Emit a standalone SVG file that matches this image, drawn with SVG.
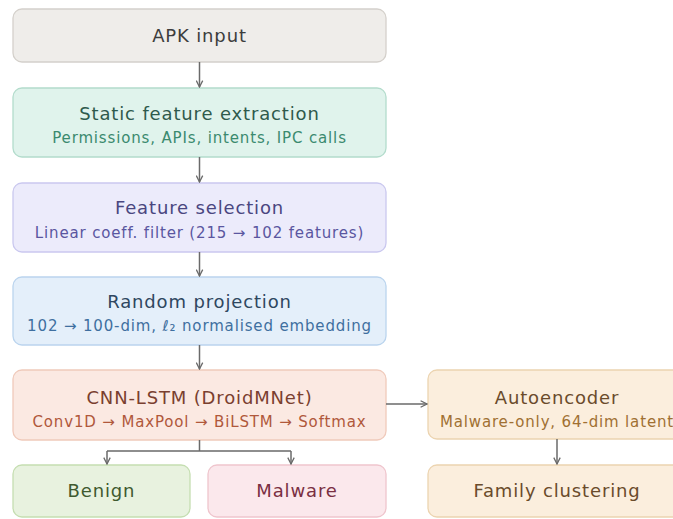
<svg xmlns="http://www.w3.org/2000/svg" width="673" height="519" viewBox="0 0 673 519">
<defs>
<marker id="ah" viewBox="0 0 10 10" refX="9" refY="5" markerWidth="8" markerHeight="8" orient="auto" markerUnits="userSpaceOnUse">
<path d="M1,1 L9,5 L1,9" fill="none" stroke="#6a6a6a" stroke-width="1.6"/>
</marker>
<style>
text{font-family:"DejaVu Sans",sans-serif;text-anchor:middle}
.t{font-size:18px;letter-spacing:0.85px}
.s{font-size:15px;letter-spacing:0.85px}
rect{stroke-width:1.3}
.c{fill:none;stroke:#6a6a6a;stroke-width:1.5}
</style>
</defs>
<rect width="673" height="519" fill="#ffffff"/>
<g id="apk">
<rect x="13" y="9" width="373" height="53" rx="9" fill="#efedea" stroke="#d4d0cb"/>
<text class="t" x="199.5" y="41.5" fill="#3d3d3d">APK input</text>
</g>
<g id="static">
<rect x="13" y="88" width="373" height="69" rx="9" fill="#e0f3ec" stroke="#b3dccc"/>
<text class="t" x="199.5" y="119.5" fill="#2f5a4c">Static feature extraction</text>
<text class="s" x="199.5" y="143" fill="#3b8a6f">Permissions, APIs, intents, IPC calls</text>
</g>
<g id="featsel">
<rect x="13" y="183" width="373" height="69" rx="9" fill="#ecebfb" stroke="#cac8ef"/>
<text class="t" x="199.5" y="213.5" fill="#4a4680">Feature selection</text>
<text class="s" x="199.5" y="237.5" fill="#5a56a0">Linear coeff. filter (215 → 102 features)</text>
</g>
<g id="randproj">
<rect x="13" y="277" width="373" height="68" rx="9" fill="#e4effa" stroke="#bad4ee"/>
<text class="t" x="199.5" y="308" fill="#2f4760">Random projection</text>
<text class="s" x="199.5" y="331" fill="#3f6fa0">102 → 100-dim, ℓ₂ normalised embedding</text>
</g>
<g id="cnn">
<rect x="13" y="370" width="373" height="70" rx="9" fill="#fbe9e2" stroke="#f0cabb"/>
<text class="t" x="199.5" y="404" fill="#7a3f2f">CNN-LSTM (DroidMNet)</text>
<text class="s" x="199.5" y="427" fill="#b0583b">Conv1D → MaxPool → BiLSTM → Softmax</text>
</g>
<g id="benign">
<rect x="13" y="465" width="177" height="52" rx="9" fill="#e8f2df" stroke="#c5deb1"/>
<text class="t" x="101.5" y="497" fill="#3f5a2f">Benign</text>
</g>
<g id="malware">
<rect x="208" y="465" width="178" height="52" rx="9" fill="#fbe8ec" stroke="#efc5cd"/>
<text class="t" x="297" y="497" fill="#7a2f42">Malware</text>
</g>
<g id="autoenc">
<rect x="428" y="370" width="258" height="69" rx="9" fill="#fbeedd" stroke="#ecd4b0"/>
<text class="t" x="557" y="404" fill="#6a4b2b">Autoencoder</text>
<text class="s" x="557" y="427" fill="#a07032">Malware-only, 64-dim latent</text>
</g>
<g id="family">
<rect x="428" y="465" width="258" height="52" rx="9" fill="#fbeedd" stroke="#ecd4b0"/>
<text class="t" x="557" y="497" fill="#6a4b2b">Family clustering</text>
</g>
<g id="connectors">
<line class="c" x1="199.5" y1="62" x2="199.5" y2="87" marker-end="url(#ah)"/>
<line class="c" x1="199.5" y1="157" x2="199.5" y2="182" marker-end="url(#ah)"/>
<line class="c" x1="199.5" y1="252" x2="199.5" y2="276" marker-end="url(#ah)"/>
<line class="c" x1="199.5" y1="345" x2="199.5" y2="369" marker-end="url(#ah)"/>
<path class="c" d="M199.5,440 V451 M107,451 H291"/>
<line class="c" x1="107" y1="451" x2="107" y2="464" marker-end="url(#ah)"/>
<line class="c" x1="291" y1="451" x2="291" y2="464" marker-end="url(#ah)"/>
<line class="c" x1="386" y1="404" x2="427" y2="404" marker-end="url(#ah)"/>
<line class="c" x1="557" y1="439" x2="557" y2="464" marker-end="url(#ah)"/>
</g>
</svg>
